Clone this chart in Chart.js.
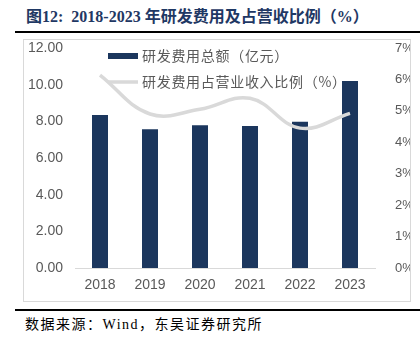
<!DOCTYPE html>
<html>
<head>
<meta charset="utf-8">
<script src="https://cdn.jsdelivr.net/npm/chart.js@4"></script>
<style>
  html, body { margin: 0; padding: 0; background: #fff; width: 420px; height: 341px; overflow: hidden; }
  #title { position: absolute; left: 26px; top: 3px; font-family: "Liberation Serif", "Noto Sans CJK SC", serif; font-weight: bold; font-size: 16px; color: #1f3864; white-space: nowrap; }
  #topRule { position: absolute; left: 15px; top: 31px; width: 405px; height: 2px; background: #000; }
  #box { position: absolute; left: 23px; top: 39px; width: 386px; height: 261px; border: 1px solid #d9d9d9; box-sizing: content-box; }
  #c { position: absolute; left: 0; top: 0; }
  #bottomRule { position: absolute; left: 15px; top: 309px; width: 405px; height: 2px; background: #000; }
  #source { position: absolute; left: 25px; top: 313px; font-family: "Liberation Serif", "Noto Sans CJK SC", serif; font-size: 14px; letter-spacing: 1.5px; color: #000; white-space: nowrap; }
</style>
</head>
<body>
<div id="title">图12:&nbsp; 2018-2023 年研发费用及占营收比例（%）</div>
<div id="topRule"></div>
<div id="box"><canvas id="c" width="386" height="261"></canvas></div>
<div id="bottomRule"></div>
<div id="source">数据来源：Wind，东吴证券研究所</div>
<script>
const years = ["2018", "2019", "2020", "2021", "2022", "2023"];
const rdExpense = [8.35, 7.57, 7.78, 7.75, 7.98, 10.2];
const rdRatio = [6.14, 4.9, 5.05, 5.4, 4.45, 4.92];
const labelExpense = "研发费用总额（亿元）";
const labelRatio = "研发费用占营业收入比例（%）";

const navy = "#1b365d";
const gray = "#d9d9d9";
const textGray = "#595959";

const legendPlugin = {
  id: "inlineLegend",
  afterDraw(chart) {
    const ctx = chart.ctx;
    ctx.save();
    ctx.font = '14px "Noto Sans CJK SC", sans-serif';
    if ("letterSpacing" in ctx) ctx.letterSpacing = "0.7px";
    ctx.textBaseline = "middle";
    ctx.fillStyle = navy;
    ctx.fillRect(84, 13, 30, 6);
    ctx.fillStyle = textGray;
    ctx.fillText(chart.data.datasets[0].label, 118, 16);
    ctx.strokeStyle = gray;
    ctx.lineWidth = 3.5;
    ctx.beginPath();
    ctx.moveTo(84, 42);
    ctx.lineTo(114, 42);
    ctx.stroke();
    ctx.fillText(chart.data.datasets[1].label, 118, 42);
    ctx.restore();
  }
};

function fixV(width) {
  return s => { s.width = width; s.paddingTop = 0; s.paddingBottom = 0; };
}

new Chart(document.getElementById("c"), {
  data: {
    labels: years,
    datasets: [
      { type: "bar", label: labelExpense, data: rdExpense, backgroundColor: navy, yAxisID: "y", order: 2,
        categoryPercentage: 1, barPercentage: 0.32 },
      { type: "line", label: labelRatio, data: rdRatio, borderColor: gray, backgroundColor: gray, borderWidth: 3.5,
        pointRadius: 0, tension: 0.4, yAxisID: "y1", order: 1 }
    ]
  },
  options: {
    responsive: false,
    animation: false,
    layout: { autoPadding: false, padding: { top: 8, left: 0, right: 0, bottom: 0 } },
    plugins: { legend: { display: false }, tooltip: { enabled: false } },
    scales: {
      x: {
        grid: { display: false, drawTicks: false },
        border: { display: true, color: gray, width: 1 },
        ticks: { color: textGray, font: { family: "Liberation Sans", size: 14 }, padding: 9 },
        afterFit(s) { s.height = 33; s.paddingLeft = 0; s.paddingRight = 0; }
      },
      y: {
        position: "left", min: 0, max: 12,
        grid: { display: false, drawTicks: false },
        border: { display: false },
        ticks: { stepSize: 2, color: textGray, font: { family: "Liberation Sans", size: 14 }, padding: 12,
                 callback: v => Number(v).toFixed(2) },
        afterFit: fixV(51)
      },
      y1: {
        position: "right", min: 0, max: 7,
        grid: { display: false, drawTicks: false },
        border: { display: false },
        ticks: { stepSize: 1, color: textGray, font: { family: "Liberation Sans", size: 13 }, padding: 20,
                 callback: v => v + "%" },
        afterFit: fixV(35)
      }
    }
  },
  plugins: [legendPlugin]
});
</script>
</body>
</html>
